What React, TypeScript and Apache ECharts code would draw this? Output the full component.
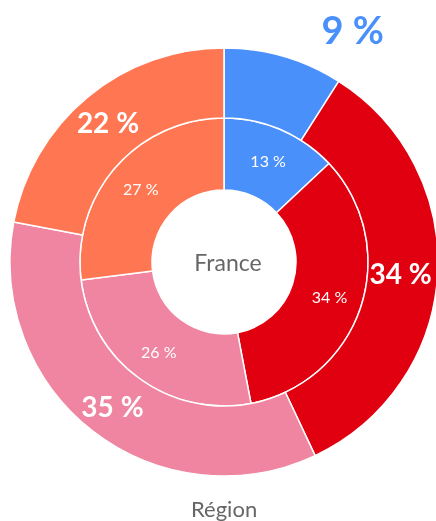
import React, { useEffect, useRef } from "react";
import * as echarts from "echarts";

const categories = ["A", "B", "C", "D"];
const outerValues = [9, 34, 35, 22];
const innerValues = [13, 34, 26, 27];
const colors = ["#4A90FA", "#E1000F", "#EF85A0", "#FF7652"];
const centerLabel = "France";
const bottomLabel = "Région";

export default function App() {
  const ref = useRef<HTMLDivElement>(null);
  useEffect(() => {
    if (!ref.current) return;
    const chart = echarts.init(ref.current, undefined, { renderer: "svg" });
    const font = "Lato, 'Open Sans', sans-serif";
    chart.setOption({
      animation: false,
      color: colors,
      title: {
        text: bottomLabel,
        left: 186,
        top: 492,
        textStyle: { color: "#666666", fontSize: 22, fontWeight: "normal", fontFamily: font },
      },
      graphic: [
        {
          type: "text",
          x: 228,
          y: 262,
          style: {
            text: centerLabel,
            fill: "#666666",
            fontSize: 23,
            fontFamily: font,
            align: "center",
            verticalAlign: "middle",
          },
        },
      ],
      series: [
        {
          type: "pie",
          center: [224, 262],
          radius: [72, 144],
          startAngle: 90,
          clockwise: true,
          itemStyle: { borderColor: "#ffffff", borderWidth: 1.5 },
          label: {
            position: "inside",
            color: "#ffffff",
            fontSize: 16,
            fontFamily: font,
            formatter: (p: any) => `${p.value} %`,
          },
          labelLine: { show: false },
          data: categories.map((c, i) => ({ name: c, value: innerValues[i] })),
        },
        {
          type: "pie",
          center: [224, 262],
          radius: [144, 214],
          startAngle: 90,
          clockwise: true,
          itemStyle: { borderColor: "#ffffff", borderWidth: 1.5 },
          label: {
            position: "inside",
            color: "#ffffff",
            fontSize: 28,
            fontWeight: "bold",
            fontFamily: font,
            formatter: (p: any) => `${p.value} %`,
          },
          labelLine: { show: false },
          labelLayout: (p: any) =>
            p.dataIndex === 0 ? { dx: 78, dy: -58 } : p.dataIndex === 1 ? { dx: -5 } : {},
          data: categories.map((c, i) => ({
            name: c,
            value: outerValues[i],
            label: i === 0 ? { color: colors[0], fontSize: 38 } : undefined,
          })),
        },
      ],
    });
    return () => chart.dispose();
  }, []);
  return (
    <div
      ref={ref}
      style={{ position: "fixed", left: 0, top: 0, width: 436, height: 521 }}
    />
  );
}
